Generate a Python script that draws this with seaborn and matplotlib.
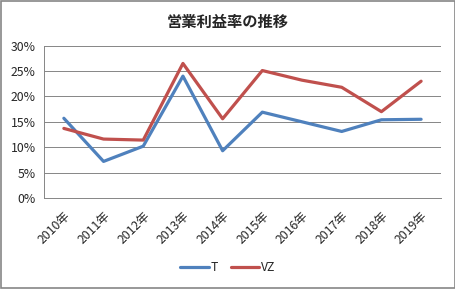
import numpy as np
import pandas as pd
import matplotlib.pyplot as plt
import seaborn as sns
from matplotlib.ticker import PercentFormatter, FixedLocator

years = ["2010年", "2011年", "2012年", "2013年", "2014年",
         "2015年", "2016年", "2017年", "2018年", "2019年"]
t_margin = [15.7, 7.2, 10.2, 24.0, 9.3, 16.9, 15.0, 13.1, 15.4, 15.5]
vz_margin = [13.7, 11.6, 11.4, 26.5, 15.6, 25.1, 23.2, 21.8, 17.0, 23.0]
series_names = ["T", "VZ"]
colors = {"T": "#4F81BD", "VZ": "#C0504D"}

df = pd.DataFrame({
    "year": years * 2,
    "margin": t_margin + vz_margin,
    "company": ["T"] * len(years) + ["VZ"] * len(years),
})

sns.set_style("white")
plt.rcParams['font.family'] = ['Noto Sans CJK JP', 'DejaVu Sans']

fig = plt.figure(figsize=(4.56, 2.89), dpi=100)
ax = fig.add_axes([0.0965, 0.315, 0.8705, 0.527])

sns.lineplot(data=df, x="year", y="margin", hue="company", hue_order=series_names,
             palette=colors, linewidth=2.3, ax=ax, sort=False)

ax.set_ylim(0, 30)
ax.set_yticks(np.arange(0, 31, 5))
ax.yaxis.set_major_formatter(PercentFormatter(decimals=0))
ax.grid(axis="y", color="#868686", linewidth=0.7)
ax.set_axisbelow(True)

n = len(years)
ax.set_xlim(-0.5, n - 0.5)
ax.set_xticks(range(n))
ax.set_xticklabels(years, rotation=45, ha="right", rotation_mode="anchor")
ax.xaxis.set_minor_locator(FixedLocator(np.arange(-0.5, n, 1.0)))
ax.tick_params(axis="x", which="major", length=0, labelsize=8.8, pad=8)
ax.tick_params(axis="x", which="minor", length=4, color="#868686", width=0.7)
ax.tick_params(axis="y", length=4, color="#868686", width=0.7, labelsize=8.8, pad=2)
ax.set_xlabel("")
ax.set_ylabel("")

for side in ["top", "right"]:
    ax.spines[side].set_visible(False)
for side in ["left", "bottom"]:
    ax.spines[side].set_color("#868686")
    ax.spines[side].set_linewidth(0.7)

handles, labels = ax.get_legend_handles_labels()
ax.legend(handles, labels, loc="center", bbox_to_anchor=(0.5, 0.073),
          bbox_transform=fig.transFigure, ncol=2, frameon=False,
          fontsize=8.8, handlelength=2.3, handletextpad=0.2, columnspacing=1.0)

fig.text(0.5, 0.925, "営業利益率の推移", ha="center", va="center",
         fontsize=11, fontweight="bold")

fig.patches.append(plt.Rectangle((0.002, 0.003), 0.996, 0.994, transform=fig.transFigure,
                                 fill=False, edgecolor="#868686", linewidth=1.2))

fig.savefig("out.png", dpi=100)
